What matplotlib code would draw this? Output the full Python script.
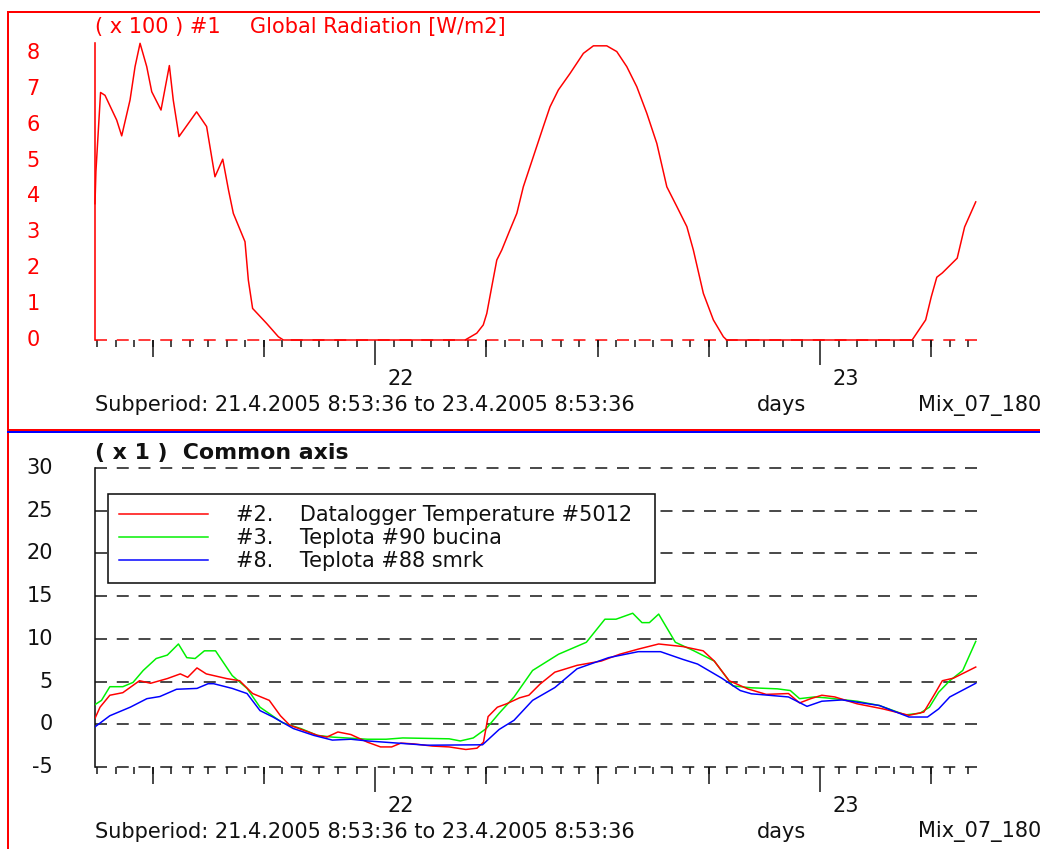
import matplotlib
matplotlib.use("Agg")
import matplotlib.pyplot as plt
import matplotlib.transforms as mtransforms
from matplotlib.lines import Line2D
from matplotlib.patches import Rectangle
import numpy as np

plt.rcParams['font.family'] = ['DejaVu Sans']

# ---------------- data (hours since 21.4.2005 8:53:36) ----------------
rad_hours = [0.0, 0.05, 0.3, 0.54, 1.17, 1.44, 1.89, 2.16, 2.43, 2.79, 3.06, 3.56,
             4.01, 4.22, 4.53, 5.48, 6.02, 6.47, 6.89, 7.2, 7.46, 8.09, 8.27, 8.5,
             9.26, 9.89, 10.16, 19.96, 20.59, 20.94, 21.13, 21.40, 21.67, 21.94,
             22.38, 22.75, 23.10, 23.64, 24.18, 24.54, 24.99, 25.62, 26.34, 26.88,
             27.6, 28.14, 28.68, 29.22, 29.76, 30.3, 30.84, 31.38, 31.92, 32.27,
             32.81, 33.35, 33.89, 34.07, 44.07, 44.8, 45.1, 45.4, 45.7, 46.5, 46.9, 47.5]
rad_x100 = [3.8, 4.7, 6.9, 6.82, 6.13, 5.69, 6.69, 7.62, 8.27, 7.62, 6.92, 6.41,
            7.65, 6.69, 5.67, 6.36, 5.95, 4.55, 5.04, 4.18, 3.53, 2.74, 1.67, 0.88,
            0.46, 0.09, 0.0, 0.0, 0.19, 0.42, 0.74, 1.49, 2.23, 2.51,
            3.07, 3.53, 4.27, 5.11, 5.95, 6.5, 6.97, 7.43, 7.99, 8.2,
            8.2, 8.04, 7.62, 7.06, 6.32, 5.48, 4.27, 3.72, 3.16, 2.51,
            1.3, 0.56, 0.09, 0.0, 0.0, 0.56, 1.2, 1.75, 1.87, 2.28, 3.15, 3.85]

t2_hours = [0, 0.27, 0.8, 1.5, 2.4, 3.0, 3.9, 4.6, 5.0, 5.5, 6.0, 7.1, 7.8, 8.5, 9.4,
            10.0, 10.5, 12.0, 12.5, 13.1, 13.8, 14.7, 15.4, 16.0, 16.5, 17.2, 18.2,
            19.1, 20.0, 20.6, 20.95, 21.2, 21.7, 22.2, 22.9, 23.4, 24.0, 24.8, 26.0,
            27.3, 28.3, 29.3, 30.4, 31.7, 32.8, 33.4, 34.2, 35.2, 36.2, 37.4, 38.0,
            38.6, 39.2, 39.9, 41.1, 42.5, 43.9, 44.7, 45.3, 45.7, 46.3, 47.5]
t2_temp = [0.7, 2.0, 3.4, 3.7, 5.1, 4.8, 5.35, 5.9, 5.5, 6.6, 5.9, 5.35, 5.1, 3.6, 2.8,
           1.0, -0.1, -1.3, -1.5, -0.9, -1.2, -2.1, -2.65, -2.65, -2.2, -2.3, -2.55,
           -2.65, -2.95, -2.8, -2.1, 0.9, 2.0, 2.4, 3.1, 3.4, 4.7, 6.1, 6.9,
           7.4, 8.2, 8.8, 9.4, 9.1, 8.6, 7.4, 5.1, 4.15, 3.5, 3.6, 2.5,
           3.0, 3.4, 3.2, 2.4, 1.8, 1.05, 1.43, 3.6, 5.1, 5.4, 6.7]

t3_hours = [0, 0.35, 0.8, 1.5, 2.05, 2.6, 3.3, 3.9, 4.5, 4.95, 5.4, 5.9, 6.5, 7.4, 8.2,
            8.9, 10.1, 11.1, 12.0, 12.8, 14.7, 15.7, 16.6, 19.1, 19.7, 20.4, 21.1,
            21.8, 22.6, 23.6, 25.0, 26.5, 27.5, 28.1, 29.0, 29.5, 29.9, 30.4, 31.3,
            32.3, 33.4, 34.4, 35.4, 36.8, 37.5, 38.0, 38.8, 39.4, 41.1, 42.3, 43.7,
            44.5, 45.0, 45.5, 46.1, 46.8, 47.5]
t3_temp = [2.3, 2.8, 4.4, 4.4, 4.9, 6.3, 7.7, 8.1, 9.4, 7.8, 7.7, 8.6, 8.6, 5.7, 4.2,
           2.0, 0.2, -0.5, -1.3, -1.5, -1.75, -1.75, -1.6, -1.7, -1.95, -1.6, -0.5,
           1.3, 3.2, 6.3, 8.2, 9.6, 12.3, 12.3, 13.0, 11.9, 11.9, 12.9, 9.6,
           8.6, 7.4, 4.5, 4.27, 4.15, 3.95, 3.0, 3.2, 3.1, 2.7, 2.2, 1.1,
           1.3, 2.0, 3.75, 5.1, 6.3, 9.7]

t8_hours = [0, 0.8, 1.9, 2.8, 3.5, 4.4, 5.5, 6.1, 6.4, 7.4, 8.2, 8.9, 9.6, 10.7, 11.8,
            12.8, 13.8, 14.7, 17.9, 20.9, 21.8, 22.6, 23.6, 24.8, 26.0, 27.7, 29.3,
            30.5, 31.7, 32.5, 33.8, 34.8, 35.4, 37.4, 38.4, 39.2, 40.3, 42.3, 43.9,
            44.9, 45.5, 46.1, 47.5]
t8_temp = [-0.3, 1.0, 2.0, 3.0, 3.25, 4.1, 4.2, 4.75, 4.75, 4.2, 3.6, 1.6, 0.85, -0.5, -1.3,
           -1.85, -1.75, -1.95, -2.45, -2.4, -0.6, 0.47, 2.8, 4.3, 6.5, 7.8, 8.5,
           8.5, 7.6, 7.05, 5.4, 3.95, 3.57, 3.2, 2.1, 2.7, 2.85, 2.2, 0.85,
           0.85, 1.8, 3.2, 4.8]

legend_ids = ["#2.", "#3.", "#8."]
legend_names = ["Datalogger Temperature #5012", "Teplota #90 bucina", "Teplota #88 smrk"]
day_labels = ["22", "23"]
rad_yticks = [0, 1, 2, 3, 4, 5, 6, 7, 8]
temp_yticks = [-5, 0, 5, 10, 15, 20, 25, 30]
subperiod = "Subperiod: 21.4.2005 8:53:36 to 23.4.2005 8:53:36"

RED = "#ff0000"
GREEN = "#00f000"
BLUE = "#0000ff"
BLACK = "#111111"

W, H = 1040, 849
fig = plt.figure(figsize=(W / 100, H / 100), dpi=100)
PX = 0.72  # points per pixel
FS = 15

def fx(x):
    return x / W

def fy(y):
    return 1 - y / H

def ftext(x, y, s, **kw):
    kw.setdefault("fontsize", FS)
    kw.setdefault("va", "center")
    kw.setdefault("ha", "left")
    fig.text(fx(x), fy(y), s, **kw)

# --- frame lines ---
frame = fig.add_axes([0, 0, 1, 1], zorder=-5)
frame.set_xlim(0, W)
frame.set_ylim(H, 0)
frame.axis("off")
frame.plot([8, 8], [11, H + 5], color=RED, lw=2 * PX, solid_capstyle="butt")
frame.plot([8, W + 5], [12, 12], color=RED, lw=2 * PX)
frame.plot([8, W + 5], [429.5, 429.5], color=RED, lw=2 * PX)
frame.plot([8, W + 5], [431.5, 431.5], color=BLUE, lw=2 * PX)

# hour tick positions
first_hour = 0.1067
hour_ticks = np.arange(first_hour, 48.0, 1.0)
six_ticks = [first_hour + k for k in (3, 9, 21, 27, 33, 45)]
day_ticks = [first_hour + 15, first_hour + 39]

DASH = (0, (8, 6.5))

def time_axis(ax, y0_px):
    ax.set_xlim(0, 48)
    ax.set_xticks(day_ticks)
    ax.set_xticklabels([])
    ax.set_xticks(hour_ticks, minor=True)
    ax.tick_params(axis="x", which="major", direction="out", length=25 * PX,
                   width=1.5 * PX, color=BLACK)
    ax.tick_params(axis="x", which="minor", direction="out", length=7 * PX,
                   width=1.5 * PX, color=BLACK)
    ax2 = ax.twiny()
    ax2.set_xlim(0, 48)
    ax2.xaxis.set_ticks_position("bottom")
    ax2.set_xticks(six_ticks)
    ax2.set_xticklabels([])
    ax2.tick_params(axis="x", direction="out", length=17 * PX, width=1.5 * PX, color=BLACK)
    for s in ax2.spines.values():
        s.set_visible(False)
    ax2.set_yticks([])
    trans = mtransforms.blended_transform_factory(ax.transData, ax.transAxes)
    for d, lab in zip(day_ticks, day_labels):
        t = mtransforms.offset_copy(trans, fig=fig, x=12 * PX, y=-39 * PX, units="points")
        ax.text(d, 0, lab, transform=t, ha="left", va="center", fontsize=FS, color=BLACK)
    ftext(95, y0_px + 65, subperiod, color=BLACK)
    ftext(757, y0_px + 65, "days", color=BLACK)
    ftext(918, y0_px + 65, "Mix_07_1806", color=BLACK)

# ---------------- top panel ----------------
top0, top1 = 340, 43
ax1 = fig.add_axes([fx(95), fy(top0), fx(890), (top0 - top1) / H])
ax1.set_facecolor("none")
ax1.set_ylim(0, (top0 - top1) / 35.875)
for k in ("top", "right", "bottom"):
    ax1.spines[k].set_visible(False)
ax1.spines["left"].set_color(RED)
ax1.spines["left"].set_linewidth(1.6 * PX)
ax1.set_yticks(rad_yticks[1:])
ax1.set_yticklabels([])
ax1.tick_params(axis="y", direction="in", length=23 * PX, width=1.5 * PX, color=RED)
ax1.axhline(0, color=RED, lw=1.5 * PX, linestyle=DASH, clip_on=False, xmin=0, xmax=1)
ax1.plot(rad_hours, rad_x100, color=RED, lw=1.5 * PX, clip_on=False, zorder=3)
time_axis(ax1, top0)
ytr1 = mtransforms.blended_transform_factory(fig.transFigure, ax1.transData)
for v in rad_yticks:
    ax1.text(fx(40), v, str(v), transform=ytr1, ha="right", va="center",
             fontsize=FS, color=RED)
ftext(95, 27, "( x 100 ) #1", color=RED)
ftext(250, 27, "Global Radiation [W/m2]", color=RED)

# ---------------- bottom panel ----------------
bot0, bot1 = 767, 468
ax = fig.add_axes([fx(95), fy(bot0), fx(890), (bot0 - bot1) / H])
ax.set_facecolor("none")
ax.set_ylim(-5, 30)
for k in ("top", "right", "bottom"):
    ax.spines[k].set_visible(False)
ax.spines["left"].set_color(BLACK)
ax.spines["left"].set_linewidth(1.6 * PX)
ax.set_yticks(temp_yticks)
ax.set_yticklabels([])
ax.tick_params(axis="y", length=0)
for v in temp_yticks:
    ax.axhline(v, color=BLACK, lw=1.5 * PX, linestyle=DASH, clip_on=False, zorder=1)
ax.plot(t2_hours, t2_temp, color=RED, lw=1.5 * PX, zorder=4)
ax.plot(t3_hours, t3_temp, color=GREEN, lw=1.5 * PX, zorder=3)
ax.plot(t8_hours, t8_temp, color=BLUE, lw=1.5 * PX, zorder=5)
time_axis(ax, bot0)
ytr = mtransforms.blended_transform_factory(fig.transFigure, ax.transData)
for v in temp_yticks:
    ax.text(fx(53), v, str(v), transform=ytr, ha="right", va="center",
            fontsize=FS, color=BLACK)
ftext(95, 453, "( x 1 )  Common axis", color=BLACK, fontweight="bold", fontsize=15.8)

# legend box
box = Rectangle((108, 494), 547, 89, transform=frame.transData, facecolor="white",
                edgecolor=BLACK, lw=1.6 * PX, zorder=10, clip_on=False)
fig.add_artist(box)
handles = [Line2D([], [], color=c, lw=1.5 * PX) for c in (RED, GREEN, BLUE)]
labels = [f"{i}    {n}" for i, n in zip(legend_ids, legend_names)]
leg = fig.legend(handles, labels, loc="upper left",
                 bbox_to_anchor=(fx(119), fy(505)), frameon=False, fontsize=FS,
                 handlelength=89 / 20.8, handletextpad=28 / 20.8, labelspacing=0.15,
                 borderpad=0, borderaxespad=0)
leg.set_zorder(11)
for t in leg.get_texts():
    t.set_color(BLACK)

fig.savefig("out.png", dpi=100)
